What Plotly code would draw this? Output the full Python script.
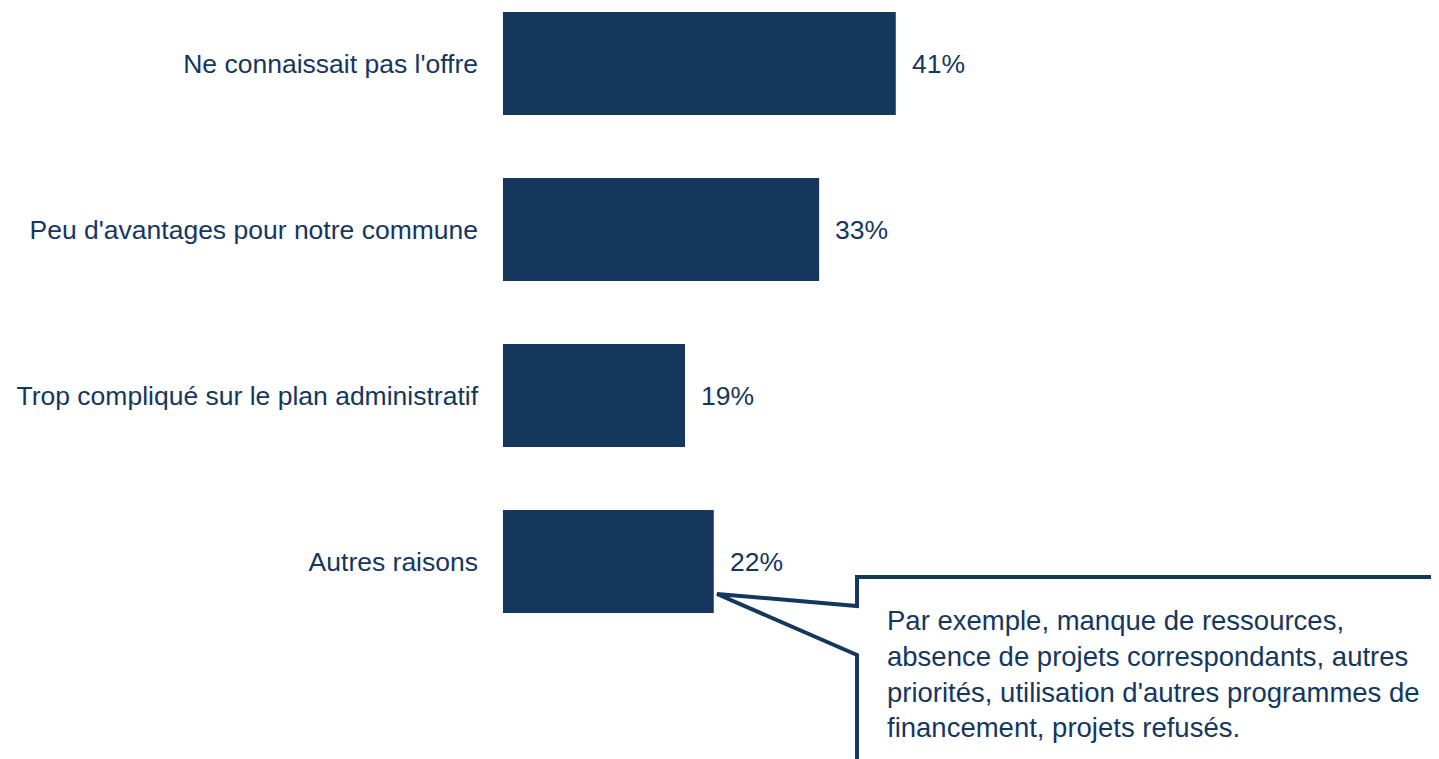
import plotly.graph_objects as go

categories = ["Ne connaissait pas l'offre", "Peu d'avantages pour notre commune",
              "Trop compliqué sur le plan administratif", "Autres raisons"]
values = [41, 33, 19, 22]
value_labels = ["41%", "33%", "19%", "22%"]
callout_text = ("Par exemple, manque de ressources,<br>absence de projets correspondants, autres"
                "<br>priorités, utilisation d'autres programmes de<br>financement, projets refusés.")

NAVY = "#15375E"
FONT = "Liberation Sans, Arial"
OFF = 8  # page body margin
W, H = 1439 - OFF, 759 - OFF
L = 503 - OFF
PW = W - L
PX_PER = 9.58

fig = go.Figure(go.Bar(
    x=values, y=categories, orientation="h",
    marker=dict(color=NAVY, line=dict(width=0)),
    width=0.62, hoverinfo="skip",
))

for c, v, t in zip(categories, values, value_labels):
    fig.add_annotation(x=v, y=c, text=t, showarrow=False, xanchor="left", xshift=14,
                       font=dict(size=26.5, color=NAVY, family=FONT))

def px(xp):
    return (xp - OFF - L) / PW

def py(yp):
    return 1 - (yp - OFF) / H

# callout box with pointer (reference-screen pixel positions)
pts = [(857, 577), (1460, 577), (1460, 780), (857, 780), (857, 655), (717, 594), (857, 606), (857, 577)]
path = "M " + " L ".join(f"{px(a):.5f},{py(b):.5f}" for a, b in pts) + " Z"
fig.add_shape(type="path", path=path, xref="paper", yref="paper",
              line=dict(color=NAVY, width=4), fillcolor="white", layer="above")

fig.add_annotation(x=px(885), y=py(603), xref="paper", yref="paper", text=callout_text,
                   showarrow=False, xanchor="left", yanchor="top", align="left",
                   font=dict(size=27.5, color=NAVY, family=FONT))

fig.update_layout(
    width=W, height=H,
    margin=dict(l=L, r=0, t=0, b=0),
    plot_bgcolor="white", paper_bgcolor="white",
    showlegend=False,
    xaxis=dict(range=[0, PW / PX_PER], visible=False, fixedrange=True),
    yaxis=dict(range=[3 + (H - (561.5 - OFF)) / 166, -(63.5 - OFF) / 166], showgrid=False,
               zeroline=False, showline=False, ticks="", ticklabelstandoff=24,
               tickfont=dict(size=26.5, color=NAVY, family=FONT),
               fixedrange=True),
)

fig.write_html("out.html")
